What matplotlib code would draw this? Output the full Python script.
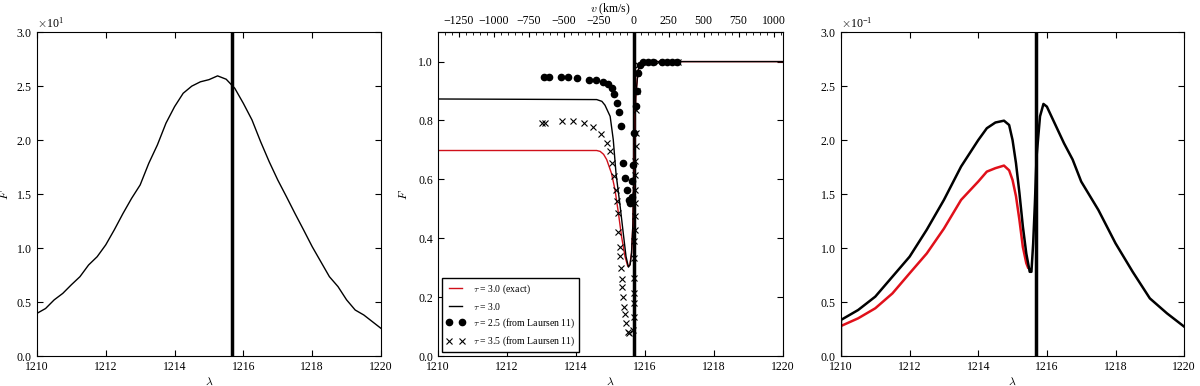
import numpy as np
import matplotlib
matplotlib.use("Agg")
import matplotlib.pyplot as plt
from matplotlib.ticker import MultipleLocator

plt.rcParams['font.family'] = ['Liberation Serif', 'DejaVu Serif']
plt.rcParams['mathtext.fontset'] = 'cm'
plt.rcParams['font.size'] = 8.5
plt.rcParams['xtick.direction'] = 'in'
plt.rcParams['ytick.direction'] = 'in'
plt.rcParams['xtick.top'] = True
plt.rcParams['ytick.right'] = True
plt.rcParams['axes.unicode_minus'] = True

LYA = 1215.67
C_KMS = 299792.458

# ---- left panel: intrinsic line (values in units of 1e1)
lam1 = np.arange(1210.0, 1220.01, 0.25)
flux1 = [0.395, 0.44, 0.52, 0.58, 0.66, 0.735, 0.843, 0.92, 1.03, 1.17,
         1.32, 1.46, 1.585, 1.785, 1.955, 2.157, 2.31, 2.434, 2.50, 2.54,
         2.56, 2.595, 2.564, 2.48, 2.34, 2.187, 1.986, 1.80, 1.63, 1.477,
         1.32, 1.168, 1.013, 0.874, 0.735, 0.643, 0.52, 0.426, 0.38, 0.318,
         0.256]
scale1 = 10.0

# ---- middle panel: transmission curves
lam_tau_exact = [1210.0, 1214.6, 1214.7, 1214.8, 1214.89, 1215.03, 1215.13, 1215.23,
                 1215.32, 1215.42, 1215.5, 1215.56, 1215.61, 1215.65, 1215.69, 1215.73,
                 1215.8, 1215.88, 1215.95, 1220.0]
T_tau_exact = [0.698, 0.698, 0.695, 0.685, 0.667, 0.62, 0.565, 0.485,
               0.406, 0.338, 0.305, 0.31, 0.35, 0.45, 0.7, 0.88,
               0.97, 0.995, 1.0, 1.0]

lam_tau = [1210.0, 1214.6, 1214.75, 1214.84, 1214.99, 1215.08, 1215.16, 1215.28,
           1215.37, 1215.45, 1215.52, 1215.57, 1215.61, 1215.65, 1215.69, 1215.73,
           1215.8, 1215.88, 1215.95, 1220.0]
T_tau = [0.873, 0.871, 0.865, 0.852, 0.814, 0.735, 0.62, 0.508,
         0.417, 0.338, 0.302, 0.31, 0.35, 0.45, 0.7, 0.88,
         0.97, 0.995, 1.0, 1.0]

lam_dots = [1213.08, 1213.22, 1213.56, 1213.78, 1214.04, 1214.39, 1214.58, 1214.77,
            1214.92, 1215.03, 1215.11, 1215.2, 1215.26, 1215.3, 1215.37, 1215.42,
            1215.47, 1215.55, 1215.57, 1215.61, 1215.63, 1215.66, 1215.69, 1215.73,
            1215.76, 1215.81, 1215.86, 1215.95, 1216.1, 1216.24, 1216.48, 1216.63,
            1216.77, 1216.92]
T_dots = [0.948, 0.947, 0.947, 0.948, 0.944, 0.939, 0.936, 0.932,
          0.925, 0.910, 0.89, 0.86, 0.83, 0.78, 0.655, 0.604,
          0.565, 0.53, 0.52, 0.54, 0.593, 0.65, 0.757, 0.848,
          0.9, 0.962, 0.99, 1.0, 1.0, 1.0, 1.0, 1.0,
          1.0, 1.0]

lam_cross = [1213.0, 1213.1, 1213.58, 1213.92, 1214.23, 1214.48, 1214.72, 1214.89,
             1214.99, 1215.03, 1215.1, 1215.15, 1215.18, 1215.21, 1215.23, 1215.28,
             1215.28, 1215.3, 1215.32, 1215.34, 1215.37, 1215.39, 1215.42, 1215.44,
             1215.52, 1215.54,
             1215.66, 1215.67, 1215.67, 1215.68, 1215.68, 1215.69, 1215.69, 1215.7,
             1215.7, 1215.71, 1215.71, 1215.72, 1215.72, 1215.73, 1215.74, 1215.75,
             1215.76, 1215.77, 1215.79, 1216.39, 1216.7, 1216.95]
T_cross = [0.79, 0.79, 0.797, 0.797, 0.791, 0.778, 0.755, 0.723,
           0.695, 0.655, 0.61, 0.565, 0.525, 0.485, 0.42, 0.37,
           0.338, 0.298, 0.261, 0.236, 0.202, 0.168, 0.143, 0.111,
           0.083, 0.077,
           0.088, 0.134, 0.179, 0.213, 0.264, 0.332, 0.389, 0.429,
           0.474, 0.519, 0.565, 0.616, 0.661, 0.712, 0.757, 0.837,
           0.899, 0.962, 0.99, 1.0, 1.0, 1.0]

labels2 = [r'$\tau$ = 3.0 (exact)', r'$\tau$ = 3.0',
           r'$\tau$ = 2.5 (from Laursen 11)', r'$\tau$ = 3.5 (from Laursen 11)']

# ---- right panel: transmitted line (values in units of 1e-1)
lam3 = [1210.0, 1210.0, 1210.5, 1211.0, 1211.5, 1212.0, 1212.5, 1213.0, 1213.5, 1214.0,
        1214.25, 1214.5, 1214.75, 1214.9, 1215.0, 1215.1, 1215.2, 1215.3, 1215.4,
        1215.5, 1215.55, 1215.6, 1215.65, 1215.7, 1215.8, 1215.9, 1216.0, 1216.25,
        1216.5, 1216.75, 1217.0, 1217.5, 1218.0, 1218.5, 1219.0, 1219.5, 1220.0]
flux3 = [0.0, 0.334, 0.426, 0.55, 0.735, 0.92, 1.17, 1.446, 1.755, 2.0,
         2.11, 2.163, 2.18, 2.14, 2.0, 1.786, 1.51, 1.2, 0.95,
         0.78, 0.78, 1.04, 1.41, 1.85, 2.22, 2.335, 2.31, 2.14,
         1.97, 1.82, 1.616, 1.353, 1.044, 0.78, 0.534, 0.395, 0.272]
lam3_red = [1210.0, 1210.5, 1211.0, 1211.5, 1212.0, 1212.5, 1213.0, 1213.5, 1214.0,
            1214.25, 1214.5, 1214.75, 1214.9, 1215.0, 1215.1, 1215.2, 1215.3, 1215.4,
            1215.45]
flux3_red = [0.278, 0.349, 0.442, 0.58, 0.766, 0.95, 1.18, 1.446, 1.616,
             1.708, 1.74, 1.764, 1.72, 1.63, 1.48, 1.26, 1.01, 0.86, 0.82]
scale3 = 0.1

fig = plt.figure(figsize=(12, 3.86), dpi=100)
ax1 = fig.add_axes([0.0308, 0.0777, 0.2867, 0.839])
ax2 = fig.add_axes([0.365, 0.0777, 0.2875, 0.839])
ax3 = fig.add_axes([0.7008, 0.0777, 0.286, 0.839])

# left
ax1.plot(lam1, np.array(flux1) * scale1, color='black', lw=1.0)
ax1.axvline(LYA, color='black', lw=2.5)
ax1.set_xlim(1210, 1220)
ax1.set_ylim(0, 30)
ax1.yaxis.set_major_locator(MultipleLocator(5))
ax1.ticklabel_format(axis='y', style='sci', scilimits=(0, 0), useMathText=True)
ax1.set_ylabel('$F$')
ax1.yaxis.set_label_coords(-0.075, 0.5)

# middle
ax2.axvline(LYA, color='black', lw=2.5)
ax2.plot(lam_tau_exact, T_tau_exact, color='#d0101a', lw=1.0, label=labels2[0])
ax2.plot(lam_tau, T_tau, color='black', lw=1.0, label=labels2[1])
ax2.plot(lam_dots, T_dots, 'o', color='black', ms=4.5, label=labels2[2])
ax2.plot(lam_cross, T_cross, 'x', color='black', ms=4.5, mew=0.8, label=labels2[3])
ax2.set_xlim(1210, 1220)
ax2.set_ylim(0, 1.1)
ax2.yaxis.set_major_locator(MultipleLocator(0.2))
ax2.tick_params(axis='x', top=False)
ax2.set_ylabel('$F$')
ax2.yaxis.set_label_coords(-0.08, 0.5)
ax2.legend(loc='lower left', numpoints=2, fancybox=False, edgecolor='black',
           fontsize=7, framealpha=1, borderaxespad=0.4, handlelength=2.0)

sec = ax2.secondary_xaxis('top', functions=(lambda l: C_KMS * (l - LYA) / LYA,
                                            lambda v: LYA * (1 + v / C_KMS)))
sec.xaxis.set_major_locator(MultipleLocator(250))
sec.xaxis.set_minor_locator(MultipleLocator(50))
sec.tick_params(which='both', direction='in')
sec.set_xlabel('$v$ (km/s)', labelpad=2)

# right
ax3.plot(lam3_red, np.array(flux3_red) * scale3, color='#e0101a', lw=1.8)
ax3.plot(lam3, np.array(flux3) * scale3, color='black', lw=1.8)
ax3.axvline(LYA, color='black', lw=2.5)
ax3.set_xlim(1210, 1220)
ax3.set_ylim(0, 0.3)
ax3.yaxis.set_major_locator(MultipleLocator(0.05))
ax3.ticklabel_format(axis='y', style='sci', scilimits=(0, 0), useMathText=True)

for ax in (ax1, ax2, ax3):
    ax.xaxis.set_major_locator(MultipleLocator(2))
    ax.ticklabel_format(axis='x', useOffset=False)
    ax.set_xlabel(r'$\lambda$', labelpad=2)
    ax.tick_params(length=4)

fig.savefig('out.png', dpi=100)
